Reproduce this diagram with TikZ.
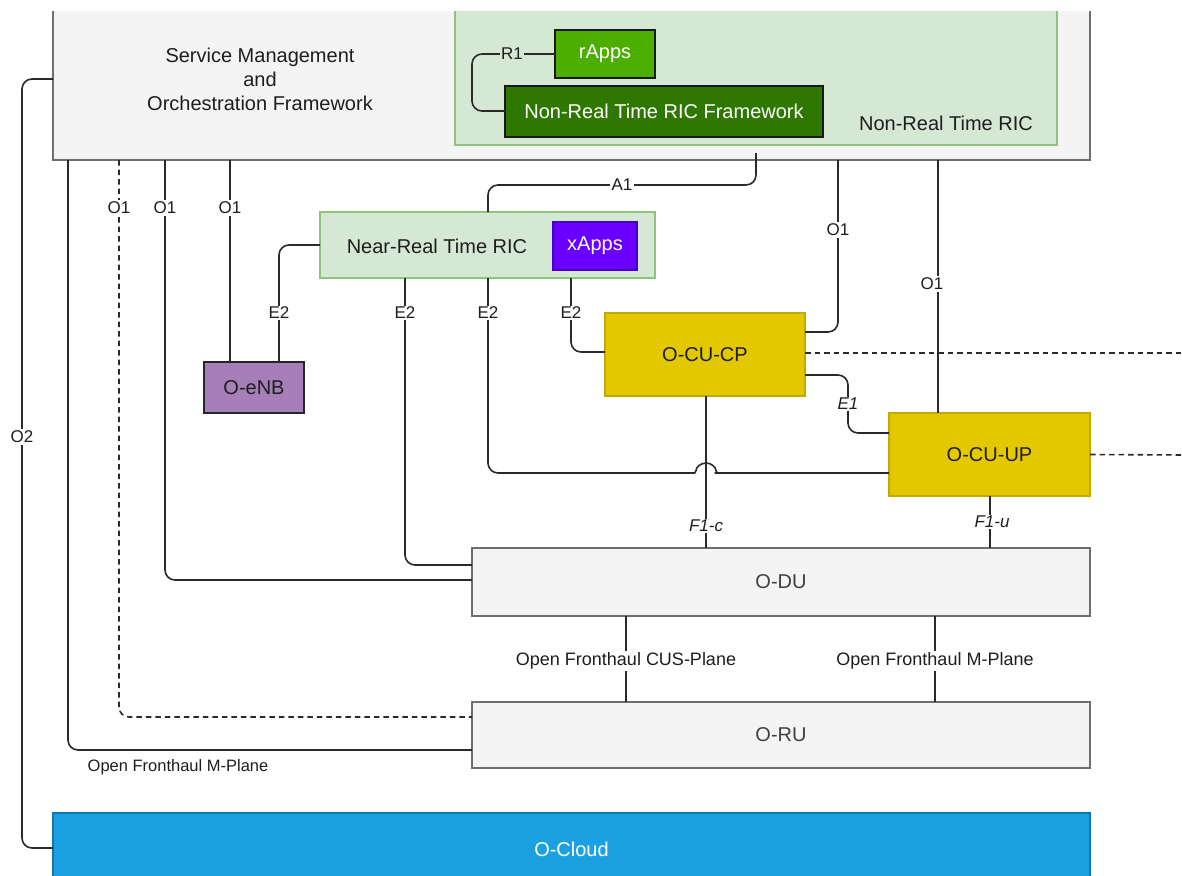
\documentclass[tikz,border=0pt]{standalone}
\usepackage{fontspec}
\setmainfont{Liberation Sans}

\definecolor{smofill}{HTML}{F4F4F4}
\definecolor{grayline}{HTML}{6E6E6E}
\definecolor{ricfill}{HTML}{D5E8D4}
\definecolor{ricline}{HTML}{8FC27E}
\definecolor{rappfill}{HTML}{4CAF00}
\definecolor{fwfill}{HTML}{2E7700}
\definecolor{xappfill}{HTML}{6A00FF}
\definecolor{xappline}{HTML}{4A00C8}
\definecolor{enbfill}{HTML}{A67FB8}
\definecolor{cufill}{HTML}{E3C800}
\definecolor{culine}{HTML}{C4AA00}
\definecolor{cloudfill}{HTML}{1BA1E2}
\definecolor{cloudline}{HTML}{0A78B5}
\definecolor{wire}{HTML}{2A2A2A}
\definecolor{ink}{HTML}{1E1E1E}

\tikzset{
  box/.style={draw, line width=1.5pt, inner sep=0pt, outer sep=0pt,
    font=\fontsize{20}{24}\selectfont, text=ink},
  graybox/.style={box, fill=smofill, draw=grayline, text=ink!85},
  txt/.style={inner sep=0pt, font=\fontsize{20}{24}\selectfont, text=ink, align=center},
  conn/.style={draw=wire, line width=1.6pt, rounded corners=10pt},
  dashconn/.style={conn, dash pattern=on 5.5pt off 4pt},
  lbl/.style={fill=white, inner sep=1.5pt, font=\fontsize{17}{20}\selectfont, text=ink},
  ilbl/.style={lbl, font=\fontsize{17}{20}\selectfont\itshape},
}

\begin{document}
\begin{tikzpicture}[x=1pt, y=-1pt]
\useasboundingbox (0,0) rectangle (1182,875);
\fill[white] (0,0) rectangle (1182,875);

\begin{scope}
\clip (0,12) rectangle (1182,875);

% ---- boxes ----
\node[graybox, minimum width=1037, minimum height=190] (smo) at (571.5,65) {};
\node[txt] (smotext) at (260,79) {Service Management\\and\\Orchestration Framework};

\node[box, fill=ricfill, draw=ricline, minimum width=602, minimum height=175] (nrtric) at (756,57.5) {};
\node[txt] (nrtlabel) at (946,123) {Non-Real Time RIC};
\node[box, fill=rappfill, draw=black!90, text=white, minimum width=100, minimum height=48] (rapps) at (605,54) {rApps};
\node[box, fill=fwfill, draw=black!90, text=white, minimum width=318, minimum height=51] (fw) at (664,111.5) {Non-Real Time RIC Framework};

\node[box, fill=ricfill, draw=ricline, minimum width=335, minimum height=66] (nearrt) at (487.5,245) {};
\node[txt] (nearrtlabel) at (437,246) {Near-Real Time RIC};
\node[box, fill=xappfill, draw=xappline, text=white, minimum width=84, minimum height=48] (xapps) at (595,246) {xApps};

\node[box, fill=enbfill, draw=black!85, minimum width=100, minimum height=51] (oenb) at (254,387.5) {O-eNB};
\node[box, fill=cufill, draw=culine, minimum width=200, minimum height=83] (ocucp) at (705,354.5) {O-CU-CP};
\node[box, fill=cufill, draw=culine, minimum width=201, minimum height=83] (ocuup) at (989.5,454.5) {O-CU-UP};

\node[graybox, minimum width=618, minimum height=68] (odu) at (781,582) {O-DU};
\node[graybox, minimum width=618, minimum height=66] (oru) at (781,735) {O-RU};
\node[box, fill=cloudfill, draw=cloudline, text=white, minimum width=1037, minimum height=72] (ocloud) at (571.5,849) {O-Cloud};

% ---- free ends ----
\coordinate (a1start) at (756,153);
\coordinate (cpout) at (1182,353);
\coordinate (upout) at (1182,455);
\coordinate (hop) at (695,473);

% ---- connectors ----
% R1 inside the Non-RT RIC
\draw[conn] (rapps.west) -| (472,111) -- (fw.west |- 0,111);
% A1
\draw[conn] (a1start) -- (756,185) -- (488,185) -- (488,0 |- nearrt.north);
% O2
\draw[conn] (smo.west |- 0,79) -| (22,848) -- (ocloud.west |- 0,848);
% SMO to O-RU (M-Plane)
\draw[conn] (68,0 |- smo.south) |- (oru.west |- 0,750);
\draw[dashconn] (119,0 |- smo.south) |- (oru.west |- 0,717);
% O1 links
\draw[conn] (165,0 |- smo.south) |- (odu.west |- 0,580);
\draw[conn] (230,0 |- smo.south) -- (230,0 |- oenb.north);
\draw[conn] (838,0 |- smo.south) |- (ocucp.east |- 0,332);
\draw[conn] (938,0 |- smo.south) -- (938,0 |- ocuup.north);
% E2 links
\draw[conn] (nearrt.west |- 0,245) -| (279,0 |- oenb.north);
\draw[conn] (405,0 |- nearrt.south) |- (odu.west |- 0,565);
\draw[conn] (488,0 |- nearrt.south) |- (hop);
\draw[conn, rounded corners=2.5pt] (hop) -- (696,473)
  arc[start angle=180, end angle=360, radius=10] -- (717,473) -- (ocuup.west |- 0,473);
\draw[conn] (571,0 |- nearrt.south) |- (ocucp.west |- 0,352);
% E1
\draw[conn] (ocucp.east |- 0,375) -| (848,433) -- (ocuup.west |- 0,433);
% F1
\draw[conn] (706,0 |- ocucp.south) -- (706,0 |- odu.north);
\draw[conn] (990,0 |- ocuup.south) -- (990,0 |- odu.north);
% fronthaul
\draw[conn] (626,0 |- odu.south) -- (626,0 |- oru.north);
\draw[conn] (935,0 |- odu.south) -- (935,0 |- oru.north);
% outgoing dashed links
\draw[dashconn] (ocucp.east |- 0,353) -- (cpout);
\draw[dashconn] (ocuup.east) -- (upout);

% ---- interface labels ----
\node[lbl, fill=ricfill] (lr1) at (512,54) {R1};
\node[lbl] (la1) at (622,185) {A1};
\node[lbl] (lo2) at (22,437) {O2};
\node[lbl] (lo1a) at (119,208) {O1};
\node[lbl] (lo1b) at (165,208) {O1};
\node[lbl] (lo1c) at (230,208) {O1};
\node[lbl] (lo1d) at (838,230) {O1};
\node[lbl] (lo1e) at (932,284) {O1};
\node[lbl] (le2a) at (279,313) {E2};
\node[lbl] (le2b) at (405,313) {E2};
\node[lbl] (le2c) at (488,313) {E2};
\node[lbl] (le2d) at (571,313) {E2};
\node[ilbl] (le1) at (848,404) {E1};
\node[ilbl] (lf1c) at (706,526) {F1-c};
\node[ilbl] (lf1u) at (992,522) {F1-u};
\node[lbl, font=\fontsize{18}{21}\selectfont] (lcus) at (626,661) {Open Fronthaul CUS-Plane};
\node[lbl, font=\fontsize{18}{21}\selectfont] (lmp) at (935,661) {Open Fronthaul M-Plane};
\node[lbl, font=\fontsize{16.5}{20}\selectfont, anchor=west] (lmp2) at (86,767) {Open Fronthaul M-Plane};
\end{scope}
\end{tikzpicture}
\end{document}
